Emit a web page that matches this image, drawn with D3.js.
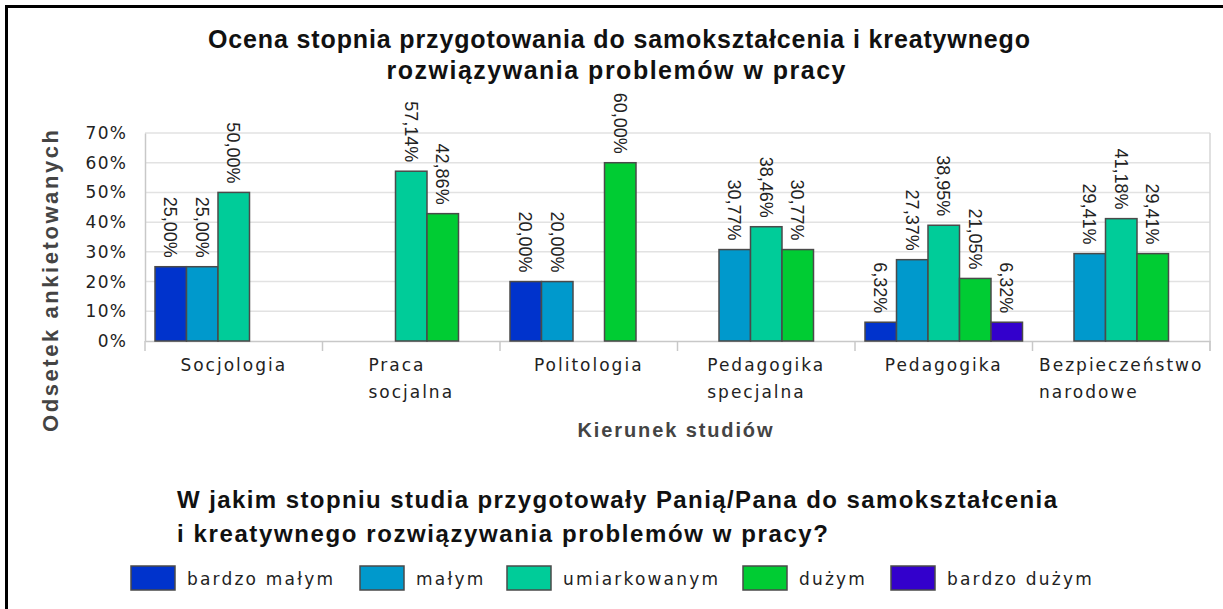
<!DOCTYPE html>
<html>
<head>
<meta charset="utf-8">
<script src="https://cdn.jsdelivr.net/npm/d3@7"></script>
<style>
  html, body { margin: 0; padding: 0; background: #fff; }
  svg { display: block; }
</style>
</head>
<body>
<svg id="chart"></svg>
<script>
//chart data
const categories = [
  ["Socjologia"],
  ["Praca", "socjalna"],
  ["Politologia"],
  ["Pedagogika", "specjalna"],
  ["Pedagogika"],
  ["Bezpieczeństwo", "narodowe"],
];
const seriesNames = ["bardzo małym", "małym", "umiarkowanym", "dużym", "bardzo dużym"];
const seriesColors = ["#0033cc", "#0099cc", "#00cc99", "#00cc33", "#3300cc"];
//values per category, one per series (0 = no answer)
const bardzoMalym = [25.0, 0, 20.0, 0, 6.32, 0];
const malym = [25.0, 0, 20.0, 30.77, 27.37, 29.41];
const umiarkowanym = [50.0, 57.14, 0, 38.46, 38.95, 41.18];
const duzym = [0, 42.86, 60.0, 30.77, 21.05, 29.41];
const bardzoDuzym = [0, 0, 0, 0, 6.32, 0];
const yTicks = [0, 10, 20, 30, 40, 50, 60, 70];
const titleLines = ["Ocena stopnia przygotowania do samokształcenia i kreatywnego", "rozwiązywania problemów w pracy"];
const legendTitleLines = ["W jakim stopniu studia przygotowały Panią/Pana do samokształcenia", "i kreatywnego rozwiązywania problemów w pracy?"];

const width = 1223, height = 609;
const margin = { top: 133, right: 13, bottom: 268, left: 145 };
const pixelFont = "'DejaVu Sans', Verdana, sans-serif";
const boldFont = "'Liberation Sans', Arial, sans-serif";

//widths the text is stretched to (the original bitmap fonts run wide)
const titleWidths = [822, 459];
const legendTitleWidths = [880, 651];
//legend layout (left edge of each swatch)
const legendX = [131, 360, 507, 743, 891];

const svg = d3.select("#chart").attr("width", width).attr("height", height);

//frame (only top and left visible in the picture)
svg.append("rect").attr("x", 5).attr("y", 5).attr("width", width - 5).attr("height", 3).attr("fill", "#000");
svg.append("rect").attr("x", 5).attr("y", 5).attr("width", 3).attr("height", height - 5).attr("fill", "#000");

//build rows
const seriesValues = [bardzoMalym, malym, umiarkowanym, duzym, bardzoDuzym];
const rows = categories.map((c, i) => ({
  key: c.join(" "),
  lines: c,
  values: seriesValues.map((s, j) => ({ series: j, value: s[i] })),
}));

//scales
const x = d3.scaleBand()
  .domain(rows.map((d) => d.key))
  .range([margin.left, width - margin.right]);
const xInner = d3.scaleBand()
  .domain(d3.range(seriesNames.length))
  .range([10, x.bandwidth() - 10]);
const y = d3.scaleLinear().domain([0, 70]).range([height - margin.bottom, margin.top]);

//gridlines
svg.append("g")
  .selectAll("line")
  .data(yTicks.slice(1))
  .join("line")
  .attr("x1", margin.left).attr("x2", width - margin.right)
  .attr("y1", (d) => y(d)).attr("y2", (d) => y(d))
  .attr("stroke", "#e2e2e2").attr("stroke-width", 1.5);

//right border of plot
svg.append("line")
  .attr("x1", width - margin.right).attr("x2", width - margin.right)
  .attr("y1", y(70)).attr("y2", y(0) + 10)
  .attr("stroke", "#d6d6d6").attr("stroke-width", 1.5);

//y axis
const yAxis = svg.append("g")
  .attr("transform", `translate(${margin.left},0)`)
  .call(d3.axisLeft(y).tickValues(yTicks).tickSize(0).tickPadding(18).tickFormat((d) => d + "%"));
yAxis.select(".domain").attr("stroke", "#c8c8c8").attr("stroke-width", 1.5);
yAxis.selectAll("text")
  .attr("font-family", pixelFont).attr("font-size", 17).attr("letter-spacing", 1.2)
  .attr("fill", "#222");

//x axis
const xAxis = svg.append("g")
  .attr("transform", `translate(0,${y(0)})`)
  .call(d3.axisBottom(x).tickSize(0).tickFormat(""));
xAxis.select(".domain").attr("stroke", "#c8c8c8").attr("stroke-width", 1.5);
svg.append("g")
  .selectAll("line")
  .data(rows.map((d) => x(d.key)).concat([width - margin.right]))
  .join("line")
  .attr("x1", (d) => d).attr("x2", (d) => d)
  .attr("y1", y(0)).attr("y2", y(0) + 10)
  .attr("stroke", "#c8c8c8").attr("stroke-width", 1.5);

//category labels: lines left aligned, block centred on the group
const catLabel = svg.append("g")
  .selectAll("text")
  .data(rows)
  .join("text")
  .attr("font-family", pixelFont).attr("font-size", 17).attr("letter-spacing", 2)
  .attr("fill", "#222");
catLabel.each(function (d) {
  const t = d3.select(this);
  d.lines.forEach((l, i) => {
    t.append("tspan").attr("x", 0).attr("y", 371 + i * 27).text(l);
  });
  let w = 0;
  t.selectAll("tspan").each(function () { w = Math.max(w, this.getComputedTextLength()); });
  const x0 = x(d.key) + x.bandwidth() / 2 - w / 2;
  t.selectAll("tspan").attr("x", x0);
});

//bars
const groups = svg.append("g")
  .selectAll("g")
  .data(rows)
  .join("g")
  .attr("transform", (d) => `translate(${x(d.key)},0)`);

groups.selectAll("rect")
  .data((d) => d.values.filter((v) => v.value > 0))
  .join("rect")
  .attr("x", (d) => xInner(d.series))
  .attr("y", (d) => y(d.value))
  .attr("width", xInner.bandwidth())
  .attr("height", (d) => y(0) - y(d.value))
  .attr("fill", (d) => seriesColors[d.series])
  .attr("stroke", "#4a4a4a").attr("stroke-width", 1.5);

//value labels, rotated, reading top to bottom
groups.selectAll("text")
  .data((d) => d.values.filter((v) => v.value > 0))
  .join("text")
  .attr("transform", (d) => `translate(${xInner(d.series) + xInner.bandwidth() / 2},${y(d.value) - 9}) rotate(90)`)
  .attr("text-anchor", "end")
  .attr("dy", "0.35em")
  .attr("font-family", boldFont).attr("font-size", 18)
  .attr("fill", "#222")
  .text((d) => d3.format(".2f")(d.value).replace(".", ",") + "%");

//chart title
svg.append("g")
  .selectAll("text")
  .data(titleLines)
  .join("text")
  .attr("x", (d, i) => [619, 616][i]).attr("y", (d, i) => 48 + i * 31)
  .attr("text-anchor", "middle")
  .attr("font-family", boldFont).attr("font-weight", "bold").attr("font-size", 25)
  .attr("textLength", (d, i) => titleWidths[i]).attr("lengthAdjust", "spacing")
  .attr("fill", "#111")
  .text((d) => d);

//axis titles
svg.append("text")
  .attr("transform", `translate(58,${281}) rotate(-90)`)
  .attr("text-anchor", "middle")
  .attr("font-family", boldFont).attr("font-weight", "bold").attr("font-size", 22)
  .attr("textLength", 302).attr("lengthAdjust", "spacing")
  .attr("fill", "#444")
  .text("Odsetek ankietowanych");

svg.append("text")
  .attr("x", 675).attr("y", 437)
  .attr("text-anchor", "middle")
  .attr("font-family", boldFont).attr("font-weight", "bold").attr("font-size", 20)
  .attr("textLength", 195).attr("lengthAdjust", "spacing")
  .attr("fill", "#444")
  .text("Kierunek studiów");

//legend title
svg.append("g")
  .selectAll("text")
  .data(legendTitleLines)
  .join("text")
  .attr("x", 177).attr("y", (d, i) => 508 + i * 34)
  .attr("font-family", boldFont).attr("font-weight", "bold").attr("font-size", 24)
  .attr("textLength", (d, i) => legendTitleWidths[i]).attr("lengthAdjust", "spacing")
  .attr("fill", "#111")
  .text((d) => d);

//legend items
const legend = svg.append("g")
  .selectAll("g")
  .data(seriesNames)
  .join("g")
  .attr("transform", (d, i) => `translate(${legendX[i]},566)`);
legend.append("rect")
  .attr("width", 44).attr("height", 24)
  .attr("fill", (d, i) => seriesColors[i])
  .attr("stroke", "#4a4a4a").attr("stroke-width", 1.5);
legend.append("text")
  .attr("x", 56).attr("y", 19)
  .attr("font-family", pixelFont).attr("font-size", 17).attr("letter-spacing", 2.2)
  .attr("fill", "#222")
  .text((d) => d);
</script>
</body>
</html>
